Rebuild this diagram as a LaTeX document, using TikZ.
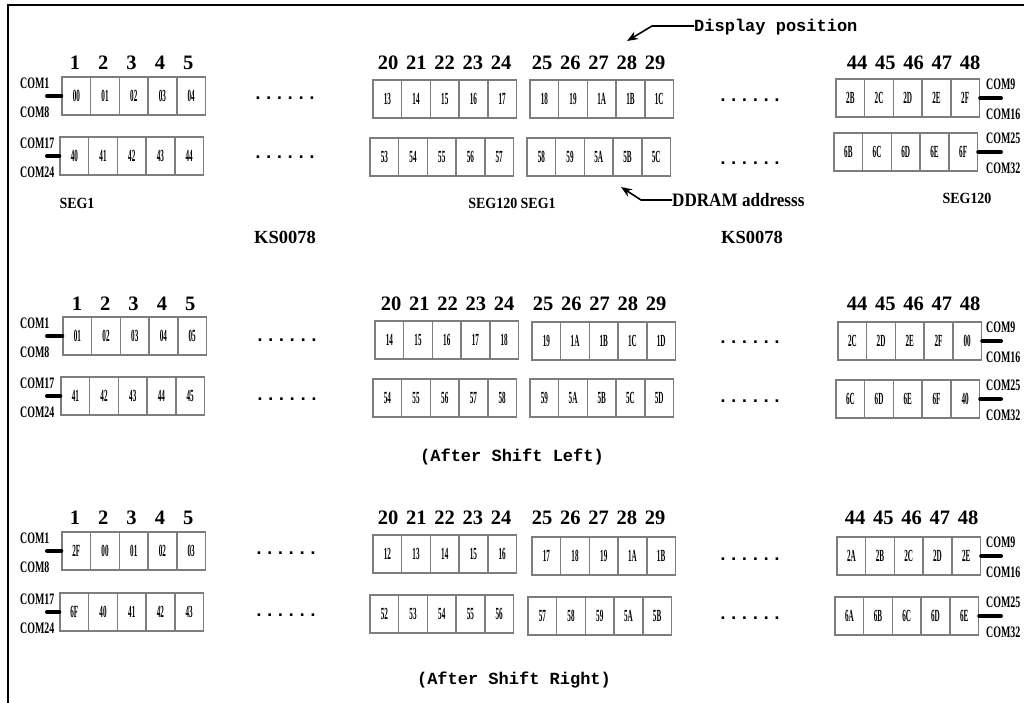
\documentclass[tikz,border=0pt]{standalone}
\usepackage{fontspec}
\usetikzlibrary{arrows.meta}
\newfontfamily\bserif{Liberation Serif}
\newfontfamily\cellfont{Liberation Serif}[FakeStretch=0.42]
\newfontfamily\comfont{Liberation Serif}[FakeStretch=0.62]
\newfontfamily\segfont{Liberation Serif}[FakeStretch=0.9]
\newfontfamily\monob{Liberation Mono}
\definecolor{cellgray}{RGB}{125,125,125}
\tikzset{
  cell/.style={draw=cellgray, line width=1.4pt, minimum width=28.7pt, minimum height=38pt, inner sep=0pt,
    font=\cellfont\bfseries\fontsize{17}{18}\selectfont},
  colnum/.style={font=\bserif\bfseries\fontsize{20.5}{22}\selectfont, inner sep=0pt},
  com/.style={font=\comfont\bfseries\fontsize{16}{18}\selectfont, inner sep=0pt},
  comdash/.style={line width=4pt, line cap=round},
  seglbl/.style={font=\segfont\bfseries\fontsize{15.5}{17}\selectfont, inner sep=0pt},
  kslbl/.style={font=\bserif\bfseries\fontsize{18.5}{20}\selectfont, inner sep=0pt},
  monolbl/.style={font=\monob\bfseries\fontsize{17}{19}\selectfont, inner sep=0pt},
  dotslbl/.style={font=\monob\bfseries\fontsize{18}{20}\selectfont, inner sep=0pt, anchor=base},
  arr/.style={line width=1.6pt, -{Stealth[length=11pt,width=8.5pt]}},
  frame/.style={line width=2pt}
}
\newcommand\cellrow[4]{%
  \foreach \lbl [count=\k] in {#4}{\node[cell] (#1-\k) at ({#2+(\k-0.5)*28.7},{#3+19}) {\lbl};}%
}
\newcommand\numrow[4]{%
  \foreach \lbl [count=\k] in {#4}{\node[colnum] (#1-\k) at ({#2+(\k-1)*28.3},#3) {\lbl};}%
}
\newcommand\lcom[4]{%
  \node[com,anchor=west] (#1-ct) at (20,#2+6) {#3};
  \node[com,anchor=west] (#1-cb) at (20,#2+35) {#4};
  \coordinate (#1-cd) at (47,#2+19);
  \draw[comdash] (#1-cd) -- (#1-1.west);
}
\newcommand\rcom[4]{%
  \node[com,anchor=west] (#1-ct) at (986,#2+5) {#3};
  \node[com,anchor=west] (#1-cb) at (986,#2+35) {#4};
  \coordinate (#1-cd) at (1001,#2+19);
  \draw[comdash] (#1-5.east) -- (#1-cd);
}
\begin{document}
\begin{tikzpicture}[x=1pt,y=-1pt]
\useasboundingbox (0,0) rectangle (1024,702);
\clip (0,0) rectangle (1024,702);
\draw[frame] (8,703) -- (8,5) -- (1025,5);

% ---------- section 1 ----------
\numrow{n1A}{75}{63}{1,2,3,4,5}
\numrow{n1B}{388}{63}{20,21,22,23,24}
\numrow{n1C}{542}{63}{25,26,27,28,29}
\numrow{n1D}{857}{63}{44,45,46,47,48}
\cellrow{s1At}{62}{77}{00,01,02,03,04}
\cellrow{s1Ab}{60}{137}{40,41,42,43,44}
\cellrow{s1Bt}{373}{80}{13,14,15,16,17}
\cellrow{s1Bb}{370}{138}{53,54,55,56,57}
\cellrow{s1Ct}{530}{80}{18,19,1A,1B,1C}
\cellrow{s1Cb}{527}{138}{58,59,5A,5B,5C}
\cellrow{s1Dt}{836}{79}{2B,2C,2D,2E,2F}
\cellrow{s1Db}{834}{133}{6B,6C,6D,6E,6F}
\lcom{s1At}{77}{COM1}{COM8}
\lcom{s1Ab}{137}{COM17}{COM24}
\rcom{s1Dt}{79}{COM9}{COM16}
\rcom{s1Db}{133}{COM25}{COM32}
\node[dotslbl] (d1a) at (285,99) {......};
\node[dotslbl] (d1b) at (285,158) {......};
\node[dotslbl] (d1c) at (750,101) {......};
\node[dotslbl] (d1d) at (750,164) {......};
\node[seglbl] (seg1) at (77,203) {SEG1};
\node[seglbl] (seg2) at (512,203) {SEG120 SEG1};
\node[seglbl] (seg3) at (967,198) {SEG120};
\node[kslbl] (ks1) at (285,237) {KS0078};
\node[kslbl] (ks2) at (752,237) {KS0078};
\node[monolbl, anchor=base west] (dptext) at (694,31) {Display position};
\coordinate (dpbend) at (652,26);
\coordinate (dptip) at (627,41);
\draw[arr] (dptext.west |- dpbend) -- (dpbend) -- (dptip);
\node[kslbl, font=\segfont\bfseries\fontsize{19}{21}\selectfont, anchor=west] (ddtext) at (672,200) {DDRAM addresss};
\coordinate (ddbend) at (641,200);
\coordinate (ddtip) at (621,187);
\draw[arr] (ddtext.west) -- (ddbend) -- (ddtip);

% ---------- section 2 ----------
\numrow{n2A}{77}{304}{1,2,3,4,5}
\numrow{n2B}{391}{304}{20,21,22,23,24}
\numrow{n2C}{543}{304}{25,26,27,28,29}
\numrow{n2D}{857}{304}{44,45,46,47,48}
\cellrow{s2At}{63}{317}{01,02,03,04,05}
\cellrow{s2Ab}{61}{377}{41,42,43,44,45}
\cellrow{s2Bt}{375}{321}{14,15,16,17,18}
\cellrow{s2Bb}{373}{379}{54,55,56,57,58}
\cellrow{s2Ct}{532}{322}{19,1A,1B,1C,1D}
\cellrow{s2Cb}{530}{379}{59,5A,5B,5C,5D}
\cellrow{s2Dt}{838}{322}{2C,2D,2E,2F,00}
\cellrow{s2Db}{836}{380}{6C,6D,6E,6F,40}
\lcom{s2At}{317}{COM1}{COM8}
\lcom{s2Ab}{377}{COM17}{COM24}
\rcom{s2Dt}{322}{COM9}{COM16}
\rcom{s2Db}{380}{COM25}{COM32}
\node[dotslbl] (d2a) at (287,341) {......};
\node[dotslbl] (d2b) at (287,400) {......};
\node[dotslbl] (d2c) at (750,343) {......};
\node[dotslbl] (d2d) at (750,402) {......};
\node[monolbl] (asl) at (512,457) {(After Shift Left)};

% ---------- section 3 ----------
\numrow{n3A}{75}{518}{1,2,3,4,5}
\numrow{n3B}{388}{518}{20,21,22,23,24}
\numrow{n3C}{542}{518}{25,26,27,28,29}
\numrow{n3D}{855}{518}{44,45,46,47,48}
\cellrow{s3At}{62}{532}{2F,00,01,02,03}
\cellrow{s3Ab}{60}{593}{6F,40,41,42,43}
\cellrow{s3Bt}{373}{535}{12,13,14,15,16}
\cellrow{s3Bb}{370}{595}{52,53,54,55,56}
\cellrow{s3Ct}{532}{537}{17,18,19,1A,1B}
\cellrow{s3Cb}{528}{597}{57,58,59,5A,5B}
\cellrow{s3Dt}{837}{537}{2A,2B,2C,2D,2E}
\cellrow{s3Db}{835}{597}{6A,6B,6C,6D,6E}
\lcom{s3At}{532}{COM1}{COM8}
\lcom{s3Ab}{593}{COM17}{COM24}
\rcom{s3Dt}{537}{COM9}{COM16}
\rcom{s3Db}{597}{COM25}{COM32}
\node[dotslbl] (d3a) at (286,554) {......};
\node[dotslbl] (d3b) at (286,616) {......};
\node[dotslbl] (d3c) at (750,560) {......};
\node[dotslbl] (d3d) at (750,619) {......};
\node[monolbl] (asr) at (514,680) {(After Shift Right)};
\end{tikzpicture}
\end{document}
